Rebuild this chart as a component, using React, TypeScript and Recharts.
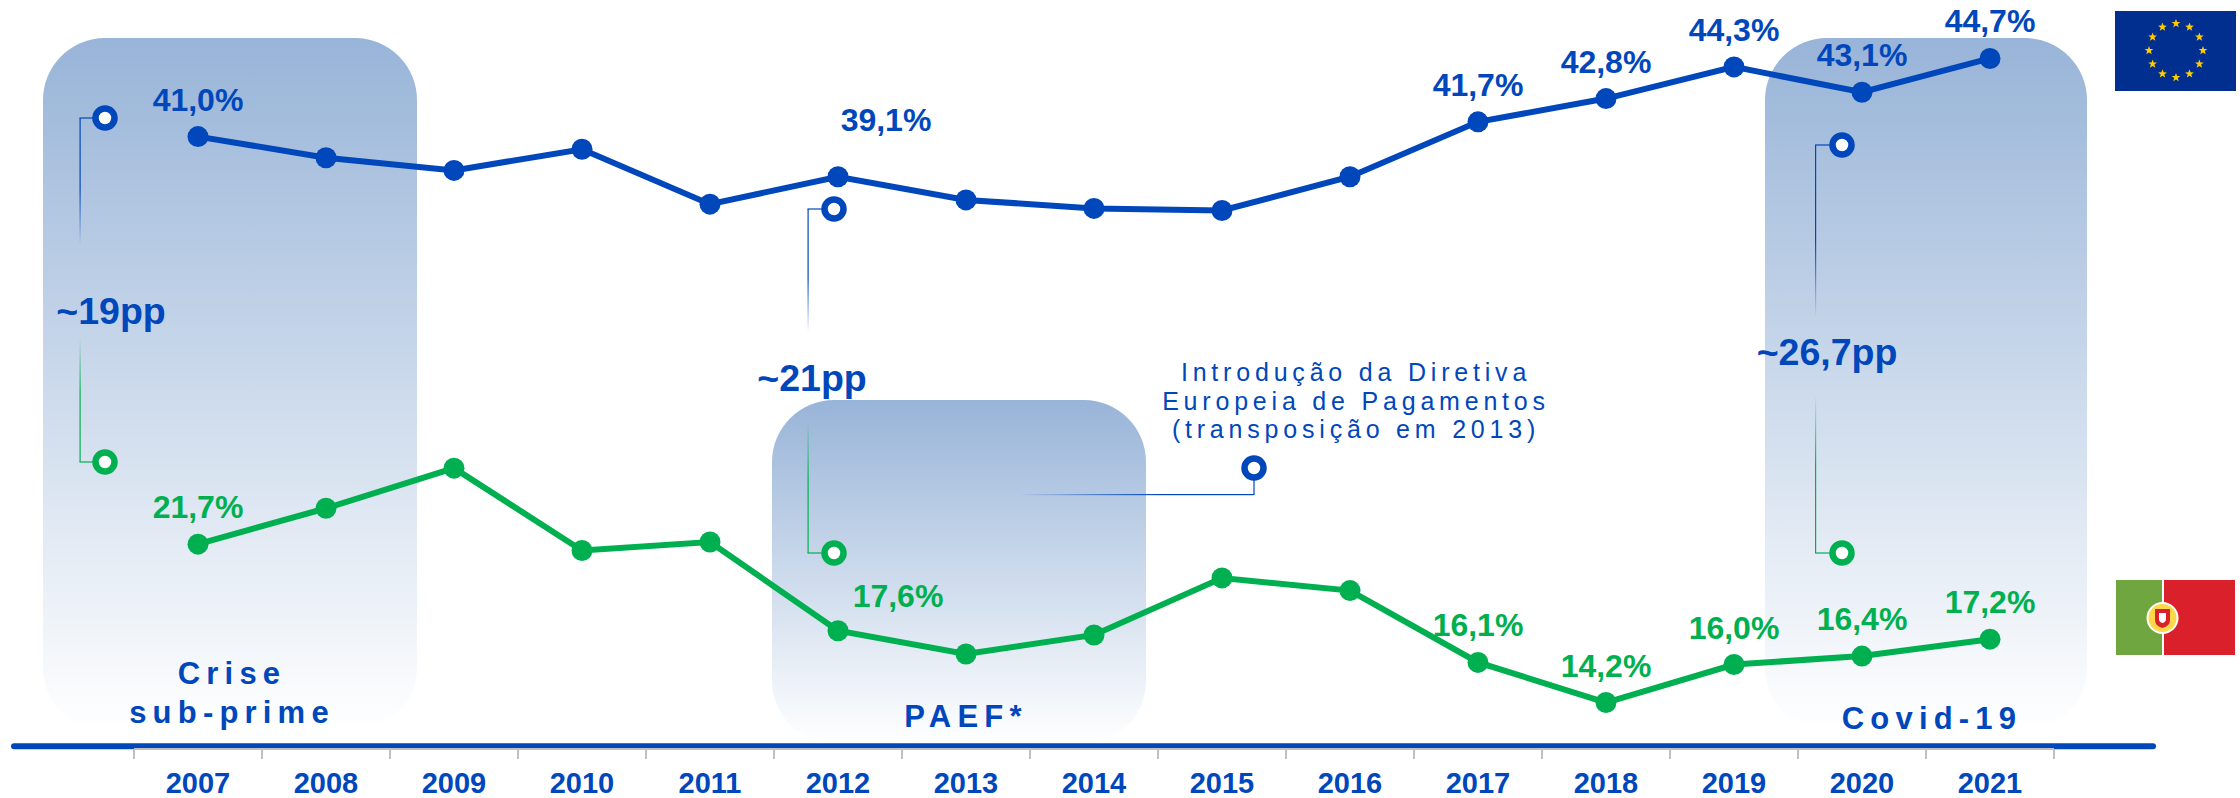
import type { ReactElement } from "react";
import { Line, LineChart, XAxis, YAxis } from "recharts";

const years = ["2007", "2008", "2009", "2010", "2011", "2012", "2013", "2014", "2015", "2016", "2017", "2018", "2019", "2020", "2021"];
const euRates = [41.0, 40.0, 39.4, 40.4, 37.8, 39.1, 38.0, 37.6, 37.5, 39.1, 41.7, 42.8, 44.3, 43.1, 44.7];
const ptRates = [21.7, 23.4, 25.3, 21.4, 21.8, 17.6, 16.5, 17.4, 20.1, 19.5, 16.1, 14.2, 16.0, 16.4, 17.2];
const labelledYears = ["2007", "2012", "2017", "2018", "2019", "2020", "2021"];

const chartData = years.map((year, i) => ({ year, eu: euRates[i], pt: ptRates[i] }));

const FONT = '"Liberation Sans", Arial, sans-serif';
const BLUE = "#0047BB";
const GREEN = "#00B050";
const BAND = 128;

function formatRate(value: number): string {
  return `${value.toFixed(1).replace(".", ",")}%`;
}

function makeValueLabel(color: string, offset2012: { dx: number; dy: number }) {
  return (props: any): ReactElement | null => {
    const year = years[props.index];
    if (!labelledYears.includes(year)) {
      return null;
    }
    const off = year === "2012" ? offset2012 : { dx: 0, dy: -37 };
    return (
      <text
        x={props.x + off.dx}
        y={props.y + off.dy + 11}
        textAnchor="middle"
        fontFamily={FONT}
        fontWeight={700}
        fontSize={32}
        fill={color}
      >
        {formatRate(props.value)}
      </text>
    );
  };
}

function YearTick(props: any): ReactElement {
  const { x, payload, index } = props;
  return (
    <g>
      <line x1={x - BAND / 2} x2={x - BAND / 2} y1={749} y2={759} stroke="#bfbfbf" strokeWidth={2} />
      {index === years.length - 1 && (
        <line x1={x + BAND / 2} x2={x + BAND / 2} y1={749} y2={759} stroke="#bfbfbf" strokeWidth={2} />
      )}
      <text x={x} y={793} textAnchor="middle" fontFamily={FONT} fontWeight={700} fontSize={29} fill={BLUE}>
        {payload.value}
      </text>
    </g>
  );
}

function Panel({ x, y, width, height }: { x: number; y: number; width: number; height: number }): ReactElement {
  return <rect x={x} y={y} width={width} height={height} rx={62} ry={62} fill="url(#panelFade)" />;
}

function Ring({ x, y, color }: { x: number; y: number; color: string }): ReactElement {
  return <circle cx={x} cy={y} r={9.5} fill="#fff" stroke={color} strokeWidth={6.5} />;
}

function BoldNote({ x, y, text, size = 31, spacing = 6.2 }: { x: number; y: number; text: string; size?: number; spacing?: number }): ReactElement {
  return (
    <text
      x={x}
      y={y + size * 0.36}
      textAnchor="middle"
      fontFamily={FONT}
      fontWeight={700}
      fontSize={size}
      letterSpacing={spacing}
      fill={BLUE}
    >
      {text}
    </text>
  );
}

function GapBracket({
  lineX,
  ringX,
  blueY,
  blueEnd,
  greenStart,
  greenY,
  label,
  labelX,
  labelY,
}: {
  lineX: number;
  ringX: number;
  blueY: number;
  blueEnd: number;
  greenStart: number;
  greenY: number;
  label: string;
  labelX: number;
  labelY: number;
}): ReactElement {
  return (
    <g>
      <rect x={lineX} y={blueY} width={1.2} height={blueEnd - blueY} fill="url(#fadeBlue)" />
      <line x1={lineX} x2={ringX} y1={blueY} y2={blueY} stroke={BLUE} strokeWidth={1.2} />
      <Ring x={ringX} y={blueY} color={BLUE} />
      <rect x={lineX} y={greenStart} width={1.2} height={greenY - greenStart} fill="url(#fadeGreen)" />
      <line x1={lineX} x2={ringX} y1={greenY} y2={greenY} stroke={GREEN} strokeWidth={1.2} />
      <Ring x={ringX} y={greenY} color={GREEN} />
      <BoldNote x={labelX} y={labelY} text={label} size={37.5} spacing={0} />
    </g>
  );
}

function EuFlag(): ReactElement {
  const cx = 2176;
  const cy = 50.5;
  const stars = Array.from({ length: 12 }, (_, i) => (i * Math.PI) / 6);
  const star = (px: number, py: number) => {
    const pts: string[] = [];
    for (let k = 0; k < 10; k++) {
      const r = k % 2 === 0 ? 4.6 : 1.9;
      const a = -Math.PI / 2 + (k * Math.PI) / 5;
      pts.push(`${px + r * Math.cos(a)},${py + r * Math.sin(a)}`);
    }
    return pts.join(" ");
  };
  return (
    <g>
      <rect x={2115} y={11} width={121} height={80} fill="#002F8F" />
      {stars.map((a) => (
        <polygon key={a} points={star(cx + 27 * Math.cos(a), cy + 27 * Math.sin(a))} fill="#FFCC00" />
      ))}
    </g>
  );
}

function PtFlag(): ReactElement {
  return (
    <g>
      <rect x={2116} y={580} width={46} height={75} fill="#70A640" />
      <rect x={2164} y={580} width={71} height={75} fill="#DA202A" />
      <circle cx={2162.5} cy={618} r={16} fill="#fff" />
      <circle cx={2162.5} cy={618} r={14} fill="#FFD84A" />
      <path d="M2155 609h15v11q0 6-7.5 8q-7.5-2-7.5-8z" fill="#DA202A" />
      <path d="M2159 613h7v6q0 3-3.5 4q-3.5-1-3.5-4z" fill="#fff" />
    </g>
  );
}

export default function App(): ReactElement {
  return (
    <div style={{ position: "absolute", left: 0, top: 0, width: 2240, height: 798, background: "#fff" }}>
      <LineChart
        width={2240}
        height={798}
        data={chartData}
        margin={{ top: 31, right: 186, bottom: 0, left: 134 }}
      >
        <defs>
          <linearGradient id="panelFade" x1="0" y1="0" x2="0" y2="1">
            <stop offset="0%" stopColor="#98B4D8" />
            <stop offset="100%" stopColor="#98B4D8" stopOpacity={0} />
          </linearGradient>
          <linearGradient id="fadeBlue" x1="0" y1="0" x2="0" y2="1">
            <stop offset="0%" stopColor={BLUE} />
            <stop offset="55%" stopColor={BLUE} />
            <stop offset="100%" stopColor={BLUE} stopOpacity={0} />
          </linearGradient>
          <linearGradient id="fadeGreen" x1="0" y1="0" x2="0" y2="1">
            <stop offset="0%" stopColor={GREEN} stopOpacity={0} />
            <stop offset="45%" stopColor={GREEN} />
            <stop offset="100%" stopColor={GREEN} />
          </linearGradient>
          <linearGradient id="fadeLeft" x1="0" y1="0" x2="1" y2="0">
            <stop offset="0%" stopColor={BLUE} stopOpacity={0} />
            <stop offset="60%" stopColor={BLUE} />
            <stop offset="100%" stopColor={BLUE} />
          </linearGradient>
        </defs>

        <Panel x={43} y={38} width={374} height={692} />
        <Panel x={772} y={400} width={374} height={343} />
        <Panel x={1765} y={38} width={322} height={692} />

        <XAxis
          dataKey="year"
          scale="band"
          interval={0}
          height={49}
          tickLine={false}
          axisLine={{ stroke: "#bfbfbf", strokeWidth: 2 }}
          tick={YearTick}
        />
        <YAxis hide domain={[12, 46]} />

        <line x1={14} x2={2153} y1={746.3} y2={746.3} stroke={BLUE} strokeWidth={6} strokeLinecap="round" />

        <GapBracket lineX={79.5} ringX={105} blueY={118} blueEnd={245} greenStart={338} greenY={462} label="~19pp" labelX={111} labelY={310} />
        <GapBracket lineX={807.5} ringX={834} blueY={209} blueEnd={332} greenStart={420} greenY={553} label="~21pp" labelX={812} labelY={377} />
        <GapBracket lineX={1815} ringX={1842} blueY={145} blueEnd={318} greenStart={395} greenY={553} label="~26,7pp" labelX={1827} labelY={351} />

        <rect x={1019} y={494} width={235} height={1.2} fill="url(#fadeLeft)" />
        <line x1={1254} x2={1254} y1={468} y2={495} stroke={BLUE} strokeWidth={1.2} />
        <Ring x={1254} y={468} color={BLUE} />

        <g>
          {["Introdução da Diretiva", "Europeia de Pagamentos", "(transposição em 2013)"].map((text, i) => (
            <text
              key={text}
              x={1356}
              y={381 + i * 28.5}
              textAnchor="middle"
              fontFamily={FONT}
              fontSize={25}
              letterSpacing={4.8}
              fill={BLUE}
            >
              {text}
            </text>
          ))}
        </g>

        <BoldNote x={232} y={673} text="Crise" />
        <BoldNote x={232} y={712} text="sub-prime" />
        <BoldNote x={966} y={716} text="PAEF*" />
        <BoldNote x={1932} y={718} text="Covid-19" />

        <EuFlag />
        <PtFlag />

        <Line
          dataKey="eu"
          stroke={BLUE}
          strokeWidth={6}
          dot={{ r: 10.5, fill: BLUE, stroke: BLUE, strokeWidth: 0 }}
          label={makeValueLabel(BLUE, { dx: 48, dy: -57 })}
          isAnimationActive={false}
        />
        <Line
          dataKey="pt"
          stroke={GREEN}
          strokeWidth={6}
          dot={{ r: 10.5, fill: GREEN, stroke: GREEN, strokeWidth: 0 }}
          label={makeValueLabel(GREEN, { dx: 60, dy: -35 })}
          isAnimationActive={false}
        />
      </LineChart>
    </div>
  );
}
